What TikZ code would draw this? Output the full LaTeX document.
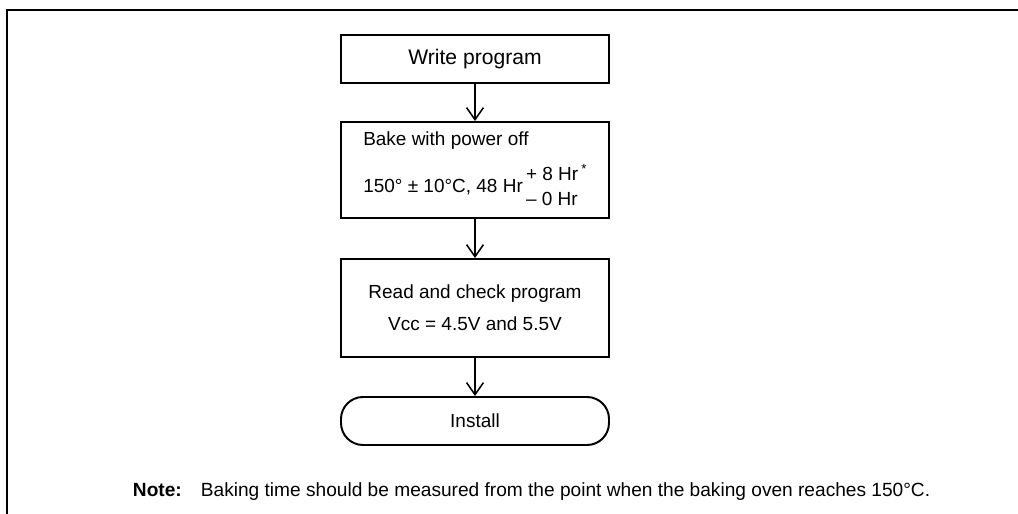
\documentclass[tikz,border=0pt]{standalone}
\usepackage{fontspec}
\setmainfont{Liberation Sans}
\usetikzlibrary{arrows.meta, positioning}

\begin{document}
\begin{tikzpicture}[>={Straight Barb[length=0.3cm, width=0.42cm]},
      stepbox/.style={draw, line width=1.4pt, minimum width=6.7cm, inner sep=0pt,
                      font=\fontsize{13.5}{16}\selectfont, align=center},
      endbox/.style={stepbox, rounded corners=0.55cm},
      arr/.style={->, line width=1.1pt},
      txt/.style={inner sep=0pt, anchor=base west, font=\fontsize{13.5}{16}\selectfont}]

    \useasboundingbox (0,0) rectangle (25.45,-12.85);

    \def\cx{11.875}  % centre line of the flow

    % Page frame (top and left edge)
    \draw[line width=1.5pt] (0.175,-12.85) -- (0.175,-0.25) -- (25.45,-0.25);

    % Flow steps
    \node[stepbox, minimum height=1.2cm, font=\fontsize{15}{18}\selectfont] (write) at (\cx,-1.475) {Write program};
    \node[stepbox, minimum height=2.4cm] (bake) at (\cx,-4.25) {};
    \node[txt] (bakeA) at (9.075,-3.65) {Bake with power off};
    \node[txt] (bakeB) at (9.075,-4.825) {150° ± 10°C, 48 Hr\,{\renewcommand{\arraystretch}{1.1}%
        \begin{tabular}[c]{@{}l@{}}+ 8 Hr\,\textsuperscript{*}\\– 0 Hr\end{tabular}}};
    \node[stepbox, minimum height=2.45cm, font=\fontsize{13.5}{23}\selectfont] (check) at (\cx,-7.7)
        {Read and check program\\Vcc = 4.5V and 5.5V};
    \node[endbox, minimum height=1.2cm] (install) at (\cx,-10.525) {Install};

    % Arrows
    \draw[arr] (write) -- (bake);
    \draw[arr] (bake) -- (check);
    \draw[arr] (check) -- (install);

    % Footnote
    \node[font=\fontsize{13.6}{16}\selectfont] (note) at (13.29,-12.3)
        {\textbf{Note:}\quad Baking time should be measured from the point when the baking oven reaches 150°C.};

\end{tikzpicture}
\end{document}
